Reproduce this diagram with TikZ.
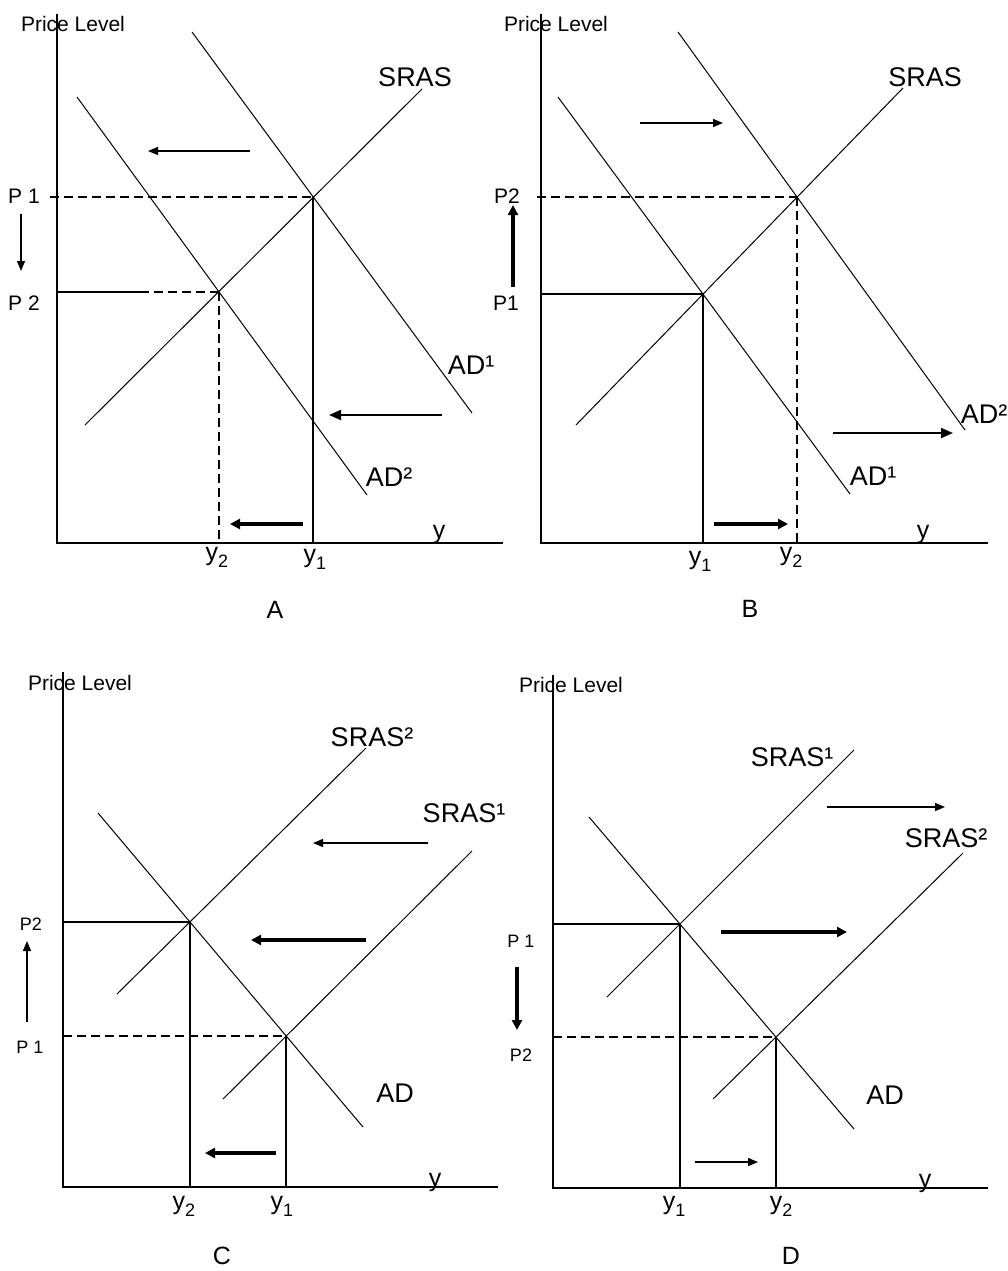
\documentclass[tikz,border=0pt]{standalone}
\usepackage{fontspec}
\setmainfont{Liberation Sans}
\usetikzlibrary{arrows.meta}

\newcommand{\ysub}[1]{y\raisebox{-7pt}{\fontsize{18}{20}\selectfont #1}}

\tikzset{
        axisline/.style={line width=1.8pt},
        curve/.style={line width=1pt},
        guide/.style={line width=1.6pt},
        guidedash/.style={line width=1.6pt,dash pattern=on 9pt off 5pt},
        thinarrow/.style={line width=1.3pt,-{Triangle[length=10pt,width=8pt]}},
        midarrow/.style={line width=2pt,-{Triangle[length=12pt,width=10pt]}},
        thickarrow/.style={line width=3.2pt,-{Triangle[length=10pt,width=10pt]}},
        axistitle/.style={inner sep=0pt,font=\fontsize{21}{24}\selectfont},
        curvelabel/.style={inner sep=0pt,font=\fontsize{27}{30}\selectfont},
        plabel/.style={inner sep=0pt,font=\fontsize{21}{24}\selectfont},
        psmall/.style={inner sep=0pt,font=\fontsize{18}{21}\selectfont},
        ylabel/.style={inner sep=0pt,font=\fontsize{25}{28}\selectfont},
        panelname/.style={inner sep=0pt,font=\fontsize{25}{28}\selectfont}
}

\begin{document}
\begin{tikzpicture}[x=1pt,y=-1pt]
        \fill[white] (0,0) rectangle (1007,1271);
        \useasboundingbox (0,0) rectangle (1007,1271);

        \coordinate (A-top) at (57,14);
        \coordinate (A-o) at (57,543);
        \coordinate (A-end) at (503,543);
        \coordinate (A-ad1a) at (192,32);
        \coordinate (A-ad1b) at (472,413);
        \coordinate (A-ad2a) at (77,97);
        \coordinate (A-ad2b) at (367,495);
        \coordinate (A-srasa) at (85,425);
        \coordinate (A-srasb) at (422,89);
        \coordinate (A-e1) at (313,197);
        \coordinate (A-e2) at (219,292);
        \coordinate (A-p1) at (50,197);
        \coordinate (A-p2) at (57,292);
        \coordinate (A-p2m) at (140,292);
        \coordinate (A-y1) at (313,543);
        \coordinate (A-y2) at (219,543);
        \coordinate (A-t1) at (250,151);
        \coordinate (A-t2) at (148,151);
        \coordinate (A-m1) at (442,415);
        \coordinate (A-m2) at (329,415);
        \coordinate (A-b1) at (303,524);
        \coordinate (A-b2) at (230,524);
        \coordinate (A-v1) at (21,214);
        \coordinate (A-v2) at (21,271);

        \draw[axisline] (A-top) -- (A-o) -- (A-end);
        \draw[curve] (A-ad1a) -- (A-ad1b);
        \draw[curve] (A-ad2a) -- (A-ad2b);
        \draw[curve] (A-srasa) -- (A-srasb);
        \draw[guidedash] (A-p1) -- (A-e1);
        \draw[guide] (A-p2) -- (A-p2m);
        \draw[guidedash] (A-p2m) -- (A-e2);
        \draw[guide] (A-e1) -- (A-y1);
        \draw[guidedash] (A-e2) -- (A-y2);
        \draw[thinarrow] (A-t1) -- (A-t2);
        \draw[midarrow] (A-m1) -- (A-m2);
        \draw[thickarrow] (A-b1) -- (A-b2);
        \draw[thinarrow] (A-v1) -- (A-v2);

        \node[axistitle] (A-title) at (73,24) {Price Level};
        \node[curvelabel] (A-sras) at (415,77) {SRAS};
        \node[curvelabel] (A-ad1) at (471,365) {AD¹};
        \node[curvelabel] (A-ad2) at (389,477) {AD²};
        \node[plabel] (A-lp1) at (24,196) {P 1};
        \node[plabel] (A-lp2) at (24,303) {P 2};
        \node[ylabel] (A-ly) at (439,534) {y};
        \node[ylabel] (A-ly2) at (217,557) {\ysub{2}};
        \node[ylabel] (A-ly1) at (315,559) {\ysub{1}};
        \node[panelname] (A-name) at (275,610) {A};

        \coordinate (B-top) at (541,14);
        \coordinate (B-o) at (541,543);
        \coordinate (B-end) at (988,543);
        \coordinate (B-ad1a) at (558,97);
        \coordinate (B-ad1b) at (850,494);
        \coordinate (B-ad2a) at (678,32);
        \coordinate (B-ad2b) at (965,430);
        \coordinate (B-srasa) at (576,425);
        \coordinate (B-srasb) at (903,88);
        \coordinate (B-e1) at (703,294);
        \coordinate (B-e2) at (797,197);
        \coordinate (B-p2) at (537,197);
        \coordinate (B-p1) at (541,294);
        \coordinate (B-y1) at (703,543);
        \coordinate (B-y2) at (797,543);
        \coordinate (B-t1) at (640,123);
        \coordinate (B-t2) at (723,123);
        \coordinate (B-m1) at (833,433);
        \coordinate (B-m2) at (953,433);
        \coordinate (B-b1) at (714,524);
        \coordinate (B-b2) at (788,524);
        \coordinate (B-v1) at (513,287);
        \coordinate (B-v2) at (513,205);

        \draw[axisline] (B-top) -- (B-o) -- (B-end);
        \draw[curve] (B-ad1a) -- (B-ad1b);
        \draw[curve] (B-ad2a) -- (B-ad2b);
        \draw[curve] (B-srasa) -- (B-srasb);
        \draw[guidedash] (B-p2) -- (B-e2);
        \draw[guide] (B-p1) -- (B-e1);
        \draw[guide] (B-e1) -- (B-y1);
        \draw[guidedash] (B-e2) -- (B-y2);
        \draw[thinarrow] (B-t1) -- (B-t2);
        \draw[midarrow] (B-m1) -- (B-m2);
        \draw[thickarrow] (B-b1) -- (B-b2);
        \draw[thickarrow] (B-v1) -- (B-v2);

        \node[axistitle] (B-title) at (556,24) {Price Level};
        \node[curvelabel] (B-sras) at (925,77) {SRAS};
        \node[curvelabel] (B-ad2) at (984,414) {AD²};
        \node[curvelabel] (B-ad1) at (873,476) {AD¹};
        \node[plabel] (B-lp2) at (507,196) {P2};
        \node[plabel] (B-lp1) at (506,303) {P1};
        \node[ylabel] (B-ly) at (923,534) {y};
        \node[ylabel] (B-ly1) at (700,561) {\ysub{1}};
        \node[ylabel] (B-ly2) at (791,557) {\ysub{2}};
        \node[panelname] (B-name) at (750,609) {B};

        \coordinate (C-top) at (63,672);
        \coordinate (C-o) at (63,1187);
        \coordinate (C-end) at (498,1187);
        \coordinate (C-ada) at (98,813);
        \coordinate (C-adb) at (363,1127);
        \coordinate (C-sras2a) at (117,994);
        \coordinate (C-sras2b) at (366,748);
        \coordinate (C-sras1a) at (223,1099);
        \coordinate (C-sras1b) at (472,851);
        \coordinate (C-e2) at (190,922);
        \coordinate (C-e1) at (286,1036);
        \coordinate (C-p2) at (63,922);
        \coordinate (C-p1) at (63,1036);
        \coordinate (C-y2) at (190,1187);
        \coordinate (C-y1) at (286,1187);
        \coordinate (C-t1) at (428,843);
        \coordinate (C-t2) at (313,843);
        \coordinate (C-m1) at (366,940);
        \coordinate (C-m2) at (251,940);
        \coordinate (C-b1) at (276,1153);
        \coordinate (C-b2) at (205,1153);
        \coordinate (C-v1) at (27,1022);
        \coordinate (C-v2) at (27,941);

        \draw[axisline] (C-top) -- (C-o) -- (C-end);
        \draw[curve] (C-ada) -- (C-adb);
        \draw[curve] (C-sras2a) -- (C-sras2b);
        \draw[curve] (C-sras1a) -- (C-sras1b);
        \draw[guide] (C-p2) -- (C-e2);
        \draw[guidedash] (C-p1) -- (C-e1);
        \draw[guide] (C-e2) -- (C-y2);
        \draw[guide] (C-e1) -- (C-y1);
        \draw[thinarrow] (C-t1) -- (C-t2);
        \draw[thickarrow] (C-m1) -- (C-m2);
        \draw[thickarrow] (C-b1) -- (C-b2);
        \draw[thinarrow] (C-v1) -- (C-v2);

        \node[axistitle] (C-title) at (80,683) {Price Level};
        \node[curvelabel] (C-sras2) at (372,737) {SRAS²};
        \node[curvelabel] (C-sras1) at (464,813) {SRAS¹};
        \node[curvelabel] (C-ad) at (395,1093) {AD};
        \node[psmall] (C-lp2) at (31,924) {P2};
        \node[psmall] (C-lp1) at (30,1047) {P 1};
        \node[ylabel] (C-ly) at (435,1182) {y};
        \node[ylabel] (C-ly2) at (184,1206) {\ysub{2}};
        \node[ylabel] (C-ly1) at (282,1206) {\ysub{1}};
        \node[panelname] (C-name) at (222,1256) {C};

        \coordinate (D-top) at (553,675);
        \coordinate (D-o) at (553,1188);
        \coordinate (D-end) at (988,1188);
        \coordinate (D-ada) at (589,817);
        \coordinate (D-adb) at (854,1129);
        \coordinate (D-sras1a) at (607,997);
        \coordinate (D-sras1b) at (854,750);
        \coordinate (D-sras2a) at (713,1099);
        \coordinate (D-sras2b) at (963,853);
        \coordinate (D-e1) at (680,924);
        \coordinate (D-e2) at (776,1037);
        \coordinate (D-p1) at (553,924);
        \coordinate (D-p2) at (553,1037);
        \coordinate (D-y1) at (680,1188);
        \coordinate (D-y2) at (776,1188);
        \coordinate (D-t1) at (827,807);
        \coordinate (D-t2) at (945,807);
        \coordinate (D-m1) at (721,932);
        \coordinate (D-m2) at (847,932);
        \coordinate (D-b1) at (695,1162);
        \coordinate (D-b2) at (758,1162);
        \coordinate (D-v1) at (517,967);
        \coordinate (D-v2) at (517,1030);

        \draw[axisline] (D-top) -- (D-o) -- (D-end);
        \draw[curve] (D-ada) -- (D-adb);
        \draw[curve] (D-sras1a) -- (D-sras1b);
        \draw[curve] (D-sras2a) -- (D-sras2b);
        \draw[guide] (D-p1) -- (D-e1);
        \draw[guidedash] (D-p2) -- (D-e2);
        \draw[guide] (D-e1) -- (D-y1);
        \draw[guide] (D-e2) -- (D-y2);
        \draw[thinarrow] (D-t1) -- (D-t2);
        \draw[thickarrow] (D-m1) -- (D-m2);
        \draw[thinarrow] (D-b1) -- (D-b2);
        \draw[thickarrow] (D-v1) -- (D-v2);

        \node[axistitle] (D-title) at (571,685) {Price Level};
        \node[curvelabel] (D-sras1) at (792,757) {SRAS¹};
        \node[curvelabel] (D-sras2) at (946,838) {SRAS²};
        \node[curvelabel] (D-ad) at (885,1095) {AD};
        \node[psmall] (D-lp1) at (521,941) {P 1};
        \node[psmall] (D-lp2) at (521,1055) {P2};
        \node[ylabel] (D-ly) at (925,1183) {y};
        \node[ylabel] (D-ly1) at (674,1206) {\ysub{1}};
        \node[ylabel] (D-ly2) at (781,1206) {\ysub{2}};
        \node[panelname] (D-name) at (791,1256) {D};
\end{tikzpicture}
\end{document}
